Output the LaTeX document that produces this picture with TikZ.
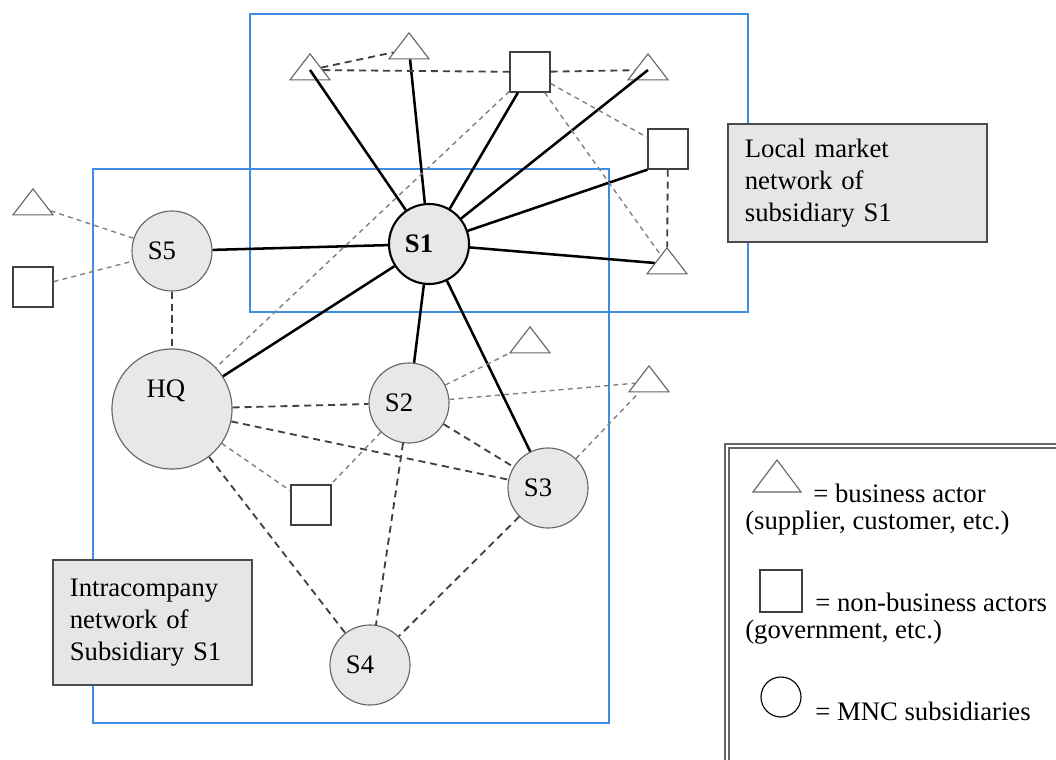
\documentclass[tikz,border=0pt]{standalone}
\usepackage{fontspec}
\setmainfont{Liberation Serif}
\usetikzlibrary{shapes.geometric}
\definecolor{netblue}{RGB}{62,140,228}
\definecolor{subfill}{RGB}{232,232,232}
\definecolor{boxfill}{RGB}{230,230,230}

\begin{document}
\begin{tikzpicture}[x=0.025cm, y=-0.025cm,
  font=\fontsize{19}{22.5}\selectfont,
  sub/.style = {circle, draw=black!60, fill=subfill, inner sep=0pt, line width=0.8pt},
  small/.style = {sub, minimum size=2cm, label={[xshift=-2.5mm]center:#1}},
  actor/.style = {isosceles triangle, isosceles triangle apex angle=75, shape border rotate=90, isosceles triangle stretches, minimum width=1cm, minimum height=0.65cm, draw=black!60, fill=white, inner sep=0pt, line width=0.8pt},
  other/.style = {rectangle, draw=black!75, fill=white, minimum size=1cm, inner sep=0pt, line width=0.9pt},
  note/.style = {draw=black!70, fill=boxfill, line width=0.9pt, align=left, inner xsep=0.42cm, inner ysep=0pt},
  key/.style = {anchor=base west, inner sep=0pt},
  tie/.style = {line width=1.8pt},
  link/.style = {draw=black!75, dash pattern=on 5pt off 3.5pt, line width=1.3pt},
  weak/.style = {draw=black!50, dash pattern=on 3.5pt off 3pt, line width=1pt}]

\useasboundingbox (0,0) rectangle (1056,760);
\draw[netblue, line width=1pt] (250,14) rectangle (748,312);
\draw[netblue, line width=1pt] (93,169) rectangle (609,723);

\node[note, text width=5.63cm, minimum height=2.95cm] (lm) at (857.5,183) {Local market\\network of\\subsidiary S1};
\node[note, text width=4.13cm, minimum height=3.125cm] (ic) at (152.5,622.5) {Intracompany\\network of\\Subsidiary S1};

\node[small={\bfseries S1}, draw=black, line width=1.5pt] (s1) at (429,244) {};
\node[small=S5] (s5) at (172,251) {};
\node[sub, minimum size=3cm, label={[xshift=-1.5mm, yshift=4.5mm]center:HQ}] (hq) at (172,409) {};
\node[small=S2] (s2) at (409,403) {};
\node[small=S3] (s3) at (548,488) {};
\node[small=S4] (s4) at (370,665) {};

\node[actor] (t1) at (310,70) {};
\node[actor] (t2) at (409,49) {};
\node[other] (q1) at (530,72) {};
\node[actor] (t3) at (648,70) {};
\node[other] (q2) at (668,149) {};
\node[actor] (t4) at (667,264) {};
\node[actor] (t5) at (530,343) {};
\node[actor] (t6) at (649,382) {};
\node[actor] (t7) at (33,205) {};
\node[other] (q3) at (33,287) {};
\node[other] (q4) at (311,505) {};

\draw[tie] (s1) -- (t1.center);
\draw[tie] (s1) -- (t2);
\draw[tie] (s1) -- (q1);
\draw[tie] (s1) -- (t3.center);
\draw[tie] (s1) -- (q2.south west);
\draw[tie] (s1) -- (t4);
\draw[tie] (s1) -- (s5);
\draw[tie] (s1) -- (hq);
\draw[tie] (s1) -- (s2);
\draw[tie] (s1) -- (s3);

\draw[link] (t1) -- (t2);
\draw[link] (t1) -- (q1);
\draw[link] (q1) -- (t3);
\draw[link] (q2) -- (t4);
\draw[weak] (q1) -- (q2);
\draw[weak] (q1) -- (t4);
\draw[weak] (q1) -- (hq);
\draw[weak] (t7) -- (s5);
\draw[weak] (q3) -- (s5);
\draw[link] (s5) -- (hq);
\draw[link] (hq) -- (s2);
\draw[link] (hq) -- (s3);
\draw[weak] (hq) -- (q4);
\draw[link] (hq) -- (s4);
\draw[weak] (s2) -- (q4);
\draw[weak] (s2) -- (t5);
\draw[weak] (s2) -- (t6);
\draw[link] (s2) -- (s3);
\draw[link] (s2) -- (s4);
\draw[link] (s3) -- (s4);
\draw[weak] (s3) -- (t6);

\draw[draw=black!60, double, double distance=1.8pt, line width=0.9pt] (727,446) rectangle (1090,800);
\node[actor, minimum width=1.2cm, minimum height=0.8cm] (kt) at (777,480) {};
\node[key] (kta) at (813,502) {= business actor};
\node[key] (ktb) at (745,529) {(supplier, customer, etc.)};
\node[other, minimum size=1.05cm] (kq) at (781,591) {};
\node[key] (kqa) at (815,611) {= non-business actors};
\node[key] (kqb) at (745,638) {(government, etc.)};
\node[circle, draw, minimum size=1cm, line width=0.8pt] (kc) at (781,697) {};
\node[key] (kca) at (815,720) {= MNC subsidiaries};
\end{tikzpicture}
\end{document}
